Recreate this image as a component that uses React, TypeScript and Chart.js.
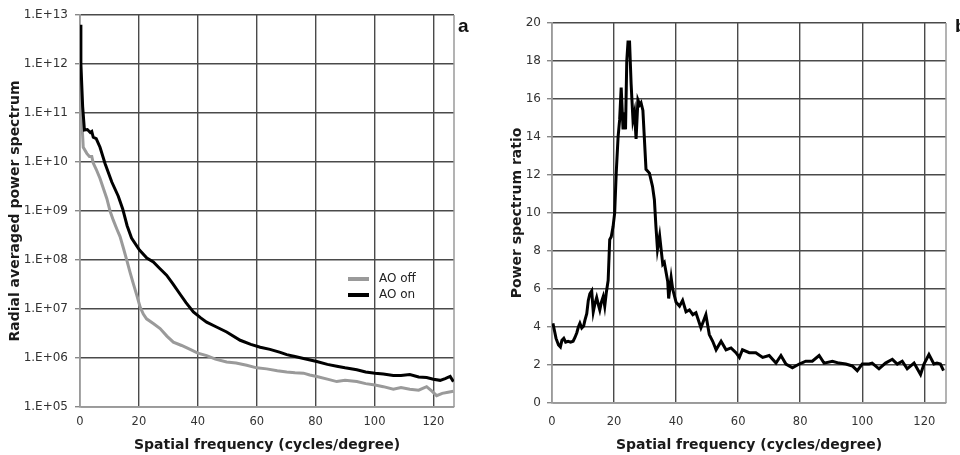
import React, { useEffect, useRef } from 'react';
import { Chart, registerables } from 'chart.js';

Chart.register(...registerables);

// ---------- Data ----------
// Panel a: radial averaged power spectrum (log scale)
const onX = [0, 0.3, 0.9, 1.5, 2.5, 3.5, 4.0, 4.5, 5.5, 6.8, 8.5, 10.8, 13.0, 14.5, 16.0, 17.5, 20.2, 22.7, 24.9, 27, 29.4, 31.5, 34.0, 36, 38.5, 41, 43.0, 46, 49.8, 54.4, 58, 61.2, 64.5, 68, 70.2, 73, 75.9, 80.4, 84, 87.2, 90, 94, 97, 100.2, 103, 106.4, 109, 112, 115, 117.7, 120, 122.3, 124, 125.7, 126.8];
const onVals = [6.3e12, 1e12, 1.35e11, 4.5e10, 4.6e10, 4.0e10, 4.2e10, 3.2e10, 3.0e10, 2.0e10, 9.3e9, 3.9e9, 2.0e9, 1.1e9, 5.0e8, 2.8e8, 1.6e8, 1.1e8, 9.1e7, 6.8e7, 4.9e7, 3.3e7, 2.0e7, 1.35e7, 8.7e6, 6.6e6, 5.4e6, 4.4e6, 3.4e6, 2.3e6, 1.9e6, 1.66e6, 1.5e6, 1.3e6, 1.17e6, 1.07e6, 9.8e5, 8.5e5, 7.4e5, 6.8e5, 6.3e5, 5.75e5, 5.2e5, 4.9e5, 4.7e5, 4.4e5, 4.4e5, 4.6e5, 4.1e5, 4.0e5, 3.7e5, 3.5e5, 3.8e5, 4.2e5, 3.3e5];

const offX = [0, 0.5, 1.1, 2.3, 3.2, 4.0, 4.5, 5.5, 6.8, 8.0, 9.1, 10.2, 11.3, 12.5, 13.6, 14.8, 15.9, 17, 18.1, 19.3, 20.4, 21.5, 22.6, 25, 27.2, 29.5, 31.7, 34.5, 37.4, 40, 43, 46, 49.8, 53, 56.6, 60, 63.4, 67, 70.2, 73, 75.9, 78, 80.4, 84, 87.2, 90, 94, 97, 100.2, 103, 106.4, 109, 112, 115, 117.7, 119.5, 121.1, 123, 125, 126.8];
const offVals = [3.2e12, 1e11, 2.0e10, 1.5e10, 1.3e10, 1.3e10, 9.5e9, 7.1e9, 4.6e9, 2.8e9, 1.8e9, 1.0e9, 6.5e8, 4.3e8, 3.0e8, 1.7e8, 9.8e7, 5.6e7, 3.3e7, 1.9e7, 1.1e7, 7.9e6, 6.3e6, 5.0e6, 4.0e6, 2.8e6, 2.1e6, 1.8e6, 1.5e6, 1.26e6, 1.12e6, 9.5e5, 8.3e5, 7.9e5, 7.1e5, 6.3e5, 6.0e5, 5.5e5, 5.2e5, 5.0e5, 4.9e5, 4.5e5, 4.2e5, 3.7e5, 3.3e5, 3.5e5, 3.3e5, 3.0e5, 2.8e5, 2.6e5, 2.3e5, 2.5e5, 2.3e5, 2.2e5, 2.6e5, 2.1e5, 1.7e5, 1.9e5, 2.0e5, 2.1e5];

const logTicks = [1e5, 1e6, 1e7, 1e8, 1e9, 1e10, 1e11, 1e12, 1e13];
const logTickLabels = ['1.E+05', '1.E+06', '1.E+07', '1.E+08', '1.E+09', '1.E+10', '1.E+11', '1.E+12', '1.E+13'];

// Panel b: power spectrum ratio
const ratioX = [0.3, 0.8, 1.3, 2.1, 2.7, 3.2, 3.8, 4.4, 5.2, 6.0, 6.8, 7.4, 8.0, 8.5, 9.0, 9.6, 10.2, 10.6, 11.2, 11.7, 12.2, 12.8, 13.3, 13.8, 14.4, 14.9, 15.4, 15.9, 16.5, 17.0, 17.5, 18.1, 18.6, 19.1, 19.7, 20.2, 20.7, 21.3, 21.8, 22.3, 22.9, 23.4, 23.7, 24.1, 24.5, 25.0, 25.5, 26.1, 26.6, 27.1, 27.7, 28.3, 28.7, 29.3, 30.3, 31.4, 32.4, 33.0, 33.5, 34.0, 34.7, 35.7, 36.2, 37.3, 37.6, 38.4, 38.9, 40.0, 41.1, 42.1, 43.2, 44.3, 45.4, 46.4, 48.0, 49.6, 50.7, 51.8, 52.9, 54.5, 56.1, 57.7, 59.3, 60.4, 61.4, 63.6, 65.7, 67.9, 70.0, 72.2, 73.8, 75.4, 77.5, 79.7, 81.8, 83.9, 86.1, 87.7, 90.4, 92.5, 94.7, 96.8, 98.4, 100.0, 102.2, 103.2, 105.4, 107.5, 109.7, 111.3, 112.9, 114.5, 116.7, 118.8, 119.9, 121.5, 123.1, 124.1, 125.2, 126.2];
const ratioVals = [4.2, 3.8, 3.4, 3.05, 2.95, 3.3, 3.4, 3.2, 3.25, 3.2, 3.25, 3.45, 3.7, 4.0, 4.2, 3.95, 4.05, 4.35, 4.7, 5.4, 5.75, 5.9, 4.8, 5.2, 5.55, 5.2, 4.9, 5.3, 5.6, 5.1, 5.8, 6.45, 8.6, 8.75, 9.3, 10.0, 12.1, 14.0, 14.9, 16.6, 14.4, 15.3, 14.4, 18.0, 19.0, 19.0, 16.8, 14.9, 15.3, 13.9, 15.95, 15.7, 15.8, 15.4, 12.3, 12.1, 11.4, 10.7, 9.3, 8.1, 8.8, 7.3, 7.4, 6.4, 5.5, 6.6, 6.0, 5.3, 5.1, 5.4, 4.8, 4.9, 4.65, 4.75, 3.96, 4.65, 3.6, 3.25, 2.8, 3.25, 2.8, 2.9, 2.65, 2.4, 2.8, 2.65, 2.65, 2.4, 2.5, 2.1, 2.5, 2.05, 1.85, 2.05, 2.2, 2.2, 2.5, 2.1, 2.2, 2.1, 2.05, 1.95, 1.7, 2.05, 2.05, 2.1, 1.8, 2.1, 2.3, 2.05, 2.2, 1.8, 2.1, 1.5, 2.05, 2.55, 2.05, 2.1, 2.05, 1.7];

const xTicks = [0, 20, 40, 60, 80, 100, 120];
const ratioTicks = [0, 2, 4, 6, 8, 10, 12, 14, 16, 18, 20];

const xTitle = 'Spatial frequency (cycles/degree)';
const leftYTitle = 'Radial averaged power spectrum';
const rightYTitle = 'Power spectrum ratio';
const legendItems = [
  { label: 'AO off', color: '#9a9a9a' },
  { label: 'AO on', color: '#000000' },
];

const FONT = 'DejaVu Sans';
const GRID = '#4a4a4a';
const BORDER = '#9a9a9a';

const framePlugin = {
  id: 'frame',
  beforeDatasetsDraw(chart: any) {
    const { ctx, chartArea } = chart;
    ctx.save();
    ctx.strokeStyle = BORDER;
    ctx.lineWidth = 1.5;
    ctx.beginPath();
    ctx.moveTo(chartArea.right, chartArea.top);
    ctx.lineTo(chartArea.right, chartArea.bottom);
    ctx.stroke();
    ctx.restore();
  },
};

const legendPlugin = {
  id: 'innerLegend',
  afterDraw(chart: any) {
    const { ctx, chartArea } = chart;
    ctx.save();
    const x0 = chartArea.right - 106;
    const y0 = chartArea.top + 264;
    legendItems.forEach((it, i) => {
      const y = y0 + i * 16;
      ctx.strokeStyle = it.color;
      ctx.lineWidth = 4;
      ctx.beginPath();
      ctx.moveTo(x0, y);
      ctx.lineTo(x0 + 21, y);
      ctx.stroke();
      ctx.fillStyle = '#222';
      ctx.font = `12px "${FONT}"`;
      ctx.textBaseline = 'middle';
      ctx.textAlign = 'left';
      ctx.fillText(it.label, x0 + 31, y);
    });
    ctx.restore();
  },
};

function xScale(padTop: number, height: number) {
  return {
    type: 'linear',
    min: 0,
    max: 127,
    afterBuildTicks: (s: any) => {
      s.ticks = xTicks.map((v) => ({ value: v }));
    },
    afterFit: (s: any) => {
      s.height = height;
    },
    ticks: { font: { family: FONT, size: 11.5 }, color: '#333', padding: padTop, maxRotation: 0, autoSkip: false },
    grid: { color: GRID, lineWidth: 1.4, drawTicks: false },
    border: { color: BORDER, width: 1.5 },
    title: {
      display: true,
      text: xTitle,
      font: { family: FONT, size: 14, weight: 'bold' },
      color: '#1a1a1a',
      padding: { top: 0, bottom: 1 },
    },
  };
}

export default function App() {
  const leftRef = useRef<HTMLCanvasElement>(null);
  const rightRef = useRef<HTMLCanvasElement>(null);

  useEffect(() => {
    const left = new Chart(leftRef.current as HTMLCanvasElement, {
      type: 'line',
      data: {
        datasets: [
          {
            label: 'AO on',
            data: onX.map((x, i) => ({ x, y: onVals[i] })),
            borderColor: '#000',
            borderWidth: 3,
            pointRadius: 0,
            tension: 0,
          },
          {
            label: 'AO off',
            data: offX.map((x, i) => ({ x, y: offVals[i] })),
            borderColor: '#9a9a9a',
            borderWidth: 3,
            pointRadius: 0,
            tension: 0,
          },
        ],
      },
      options: {
        responsive: false,
        animation: false,
        layout: { padding: { left: 0, right: 26, top: 15, bottom: 0 } },
        plugins: { legend: { display: false }, tooltip: { enabled: false } },
        scales: {
          x: xScale(8, 48) as any,
          y: {
            type: 'logarithmic',
            min: 1e5,
            max: 1e13,
            afterBuildTicks: (s: any) => {
              s.ticks = logTicks.map((v) => ({ value: v }));
            },
            afterFit: (s: any) => {
              s.width = 80;
            },
            ticks: {
              font: { family: FONT, size: 12 },
              color: '#333',
              padding: 7,
              autoSkip: false,
              callback: (_v: any, i: number) => logTickLabels[i],
            },
            grid: { color: GRID, lineWidth: 1.4, tickLength: 5, tickColor: '#888' },
            border: { color: BORDER, width: 1.5 },
            title: {
              display: true,
              text: leftYTitle,
              font: { family: FONT, size: 14, weight: 'bold' },
              color: '#1a1a1a',
              padding: { top: 7, bottom: 0 },
            },
          },
        },
      },
      plugins: [framePlugin, legendPlugin],
    } as any);

    const right = new Chart(rightRef.current as HTMLCanvasElement, {
      type: 'line',
      data: {
        datasets: [
          {
            label: 'ratio',
            data: ratioX.map((x, i) => ({ x, y: ratioVals[i] })),
            borderColor: '#000',
            borderWidth: 3,
            pointRadius: 0,
            tension: 0,
          },
        ],
      },
      options: {
        responsive: false,
        animation: false,
        layout: { padding: { left: 0, right: 14, top: 23, bottom: 0 } },
        plugins: { legend: { display: false }, tooltip: { enabled: false } },
        scales: {
          x: xScale(12, 52) as any,
          y: {
            type: 'linear',
            min: 0,
            max: 20,
            afterBuildTicks: (s: any) => {
              s.ticks = ratioTicks.map((v) => ({ value: v }));
            },
            afterFit: (s: any) => {
              s.width = 72;
            },
            ticks: { font: { family: FONT, size: 12 }, color: '#333', padding: 6, autoSkip: false },
            grid: { color: GRID, lineWidth: 1.4, tickLength: 5, tickColor: '#888' },
            border: { color: BORDER, width: 1.5 },
            title: {
              display: true,
              text: rightYTitle,
              font: { family: FONT, size: 14, weight: 'bold' },
              color: '#1a1a1a',
              padding: { top: 29, bottom: 0 },
            },
          },
        },
      },
      plugins: [framePlugin],
    } as any);

    return () => {
      left.destroy();
      right.destroy();
    };
  }, []);

  const panelLabel: React.CSSProperties = {
    position: 'absolute',
    fontFamily: '"Liberation Sans", Arial, sans-serif',
    fontWeight: 'bold',
    fontSize: '19px',
    lineHeight: '19px',
    color: '#111',
  };

  return (
    <div style={{ position: 'fixed', left: 0, top: 0, width: 960, height: 455, background: '#fff', overflow: 'hidden' }}>
      <canvas ref={leftRef} width={480} height={455} style={{ position: 'absolute', left: 0, top: 0 }} />
      <canvas ref={rightRef} width={480} height={455} style={{ position: 'absolute', left: 480, top: 0 }} />
      <div style={{ ...panelLabel, left: 458, top: 16 }}>a</div>
      <div style={{ ...panelLabel, left: 955, top: 16 }}>b</div>
    </div>
  );
}
